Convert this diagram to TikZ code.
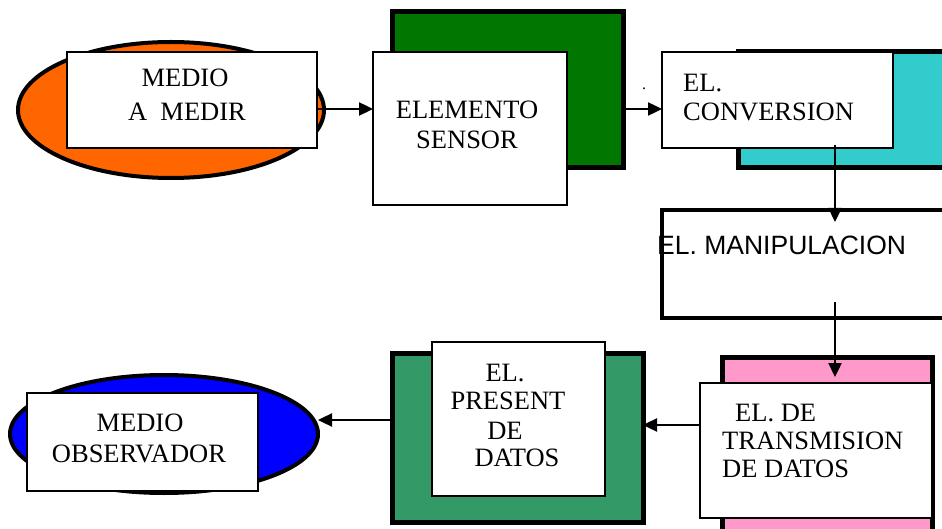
\documentclass[tikz,border=0pt]{standalone}
\usepackage{fontspec}
\setmainfont{Liberation Serif}
\newfontfamily\sansfont{Liberation Sans}
\usetikzlibrary{arrows.meta,shapes.geometric}
\definecolor{orangefill}{HTML}{FF6600}
\definecolor{sensorgreen}{HTML}{007700}
\definecolor{convcyan}{HTML}{33CCCC}
\definecolor{transpink}{HTML}{FF99CC}
\definecolor{presgreen}{HTML}{339966}
\definecolor{obsblue}{HTML}{0000FF}
\tikzset{
  backbox/.style={draw=black, line width=5pt, rectangle},
  whitebox/.style={draw=black, line width=1.5pt, fill=white},
  blob/.style={draw=black, line width=4pt},
  lbl/.style={inner sep=0pt, font=\fontsize{26.5}{29}\selectfont},
  lblsans/.style={inner sep=0pt, font=\sansfont\fontsize{26.5}{29}\selectfont},
  arr/.style={line width=2.4pt, -{Triangle[length=14pt,width=13pt]}}
}
\begin{document}
\begin{tikzpicture}[x=1pt,y=-1pt]
\useasboundingbox (0,0) rectangle (942,529);

% --- medio a medir ---
\draw[blob, fill=orangefill] (171,110) ellipse [x radius=153, y radius=68];
\draw[whitebox] (67,52) rectangle (317,148);
\coordinate (medir) at (317,109);
\node[lbl, anchor=base] (m1) at (185,87) {MEDIO};
\node[lbl, anchor=base] (m2) at (187,121) {A~~MEDIR};

% --- elemento sensor ---
\draw[backbox, fill=sensorgreen] (392,12) rectangle (623,168);
\draw[whitebox] (373,52) rectangle (567,205);
\coordinate (sensorin) at (373,109);
\coordinate (sensorout) at (623,109);
\node[lbl, anchor=base] (s1) at (467,119) {ELEMENTO};
\node[lbl, anchor=base] (s2) at (467,149) {SENSOR};

% --- el. conversion ---
\draw[backbox, fill=convcyan] (738,52) rectangle (960,168);
\draw[whitebox] (662,52) rectangle (893,148);
\coordinate (convin) at (662,109);
\coordinate (convout) at (835,145);
\node[lbl, anchor=base west] (c1) at (683,92) {EL.};
\node[lbl, anchor=base west] (c2) at (683,121) {CONVERSION};
\node[inner sep=0pt, font=\fontsize{16}{16}\selectfont, anchor=base] (dot) at (644,90) {.};

% --- el. manipulacion ---
\draw[draw=black, line width=4.5pt, fill=white] (662,210) rectangle (960,318);
\coordinate (manin) at (835,222);
\coordinate (manout) at (835,302);
\node[lblsans, anchor=base west] (mp) at (657,255) {EL. MANIPULACION};

% --- el. de transmision de datos ---
\draw[backbox, fill=transpink] (722,357) rectangle (932,545);
\draw[whitebox] (700,383) rectangle (932,518);
\coordinate (transin) at (835,377);
\coordinate (transout) at (700,425);
\node[lbl, anchor=base west] (t1) at (735,421) {EL. DE};
\node[lbl, anchor=base west] (t2) at (722,449) {TRANSMISION};
\node[lbl, anchor=base west] (t3) at (722,477) {DE DATOS};

% --- el. present de datos ---
\draw[backbox, fill=presgreen] (392,353) rectangle (643,522);
\draw[whitebox] (432,342) rectangle (605,496);
\coordinate (presin) at (643,425);
\coordinate (presout) at (392,420);
\node[lbl, anchor=base] (p1) at (505,381) {EL.};
\node[lbl, anchor=base] (p2) at (508,409) {PRESENT};
\node[lbl, anchor=base] (p3) at (505,439) {DE};
\node[lbl, anchor=base] (p4) at (517,466) {DATOS};

% --- medio observador ---
\draw[blob, fill=obsblue] (164,434) ellipse [x radius=154, y radius=59];
\draw[whitebox] (27,393) rectangle (258,491);
\coordinate (obsin) at (318,420);
\node[lbl, anchor=base] (o1) at (140,431) {MEDIO};
\node[lbl, anchor=base] (o2) at (139,462) {OBSERVADOR};

% --- connectors ---
\draw[arr] (medir) -- (sensorin);
\draw[arr] (sensorout) -- (convin);
\draw[arr] (convout) -- (manin);
\draw[arr] (manout) -- (transin);
\draw[arr] (transout) -- (presin);
\draw[arr] (presout) -- (obsin);
\end{tikzpicture}
\end{document}
